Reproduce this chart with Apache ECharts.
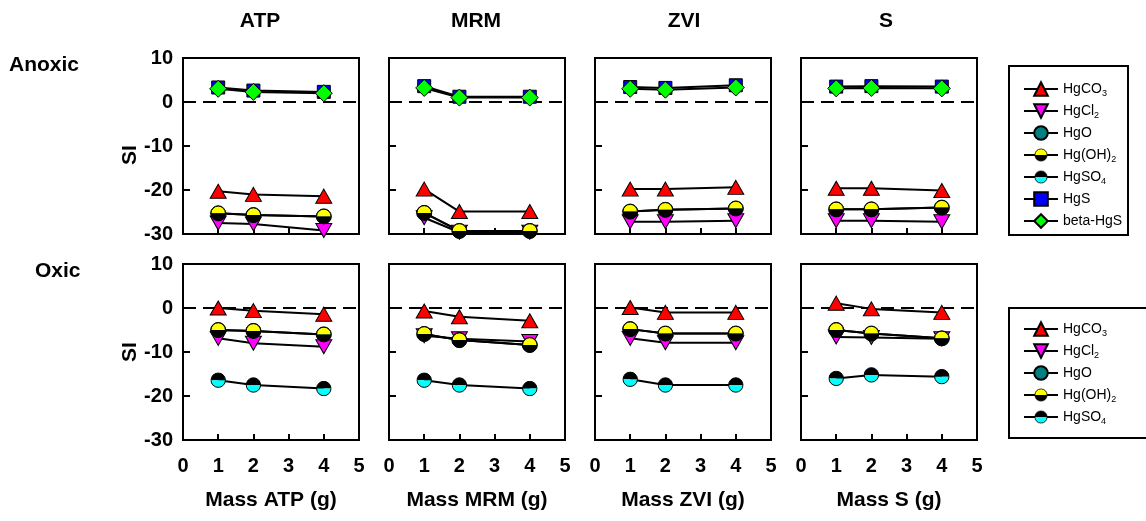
<!DOCTYPE html>
<html>
<head>
<meta charset="utf-8">
<title>SI vs mass</title>
<script src="https://cdn.jsdelivr.net/npm/echarts@6/dist/echarts.min.js"></script>
<style>
  html, body { margin: 0; background: #fff; }
  #main { width: 1146px; height: 521px; }
</style>
</head>
<body>
<div id="main"></div>
<script>
// amendments / x positions
var columns = ['ATP', 'MRM', 'ZVI', 'S'];
var mass = [1, 2, 4];
var zeroLine = [[0, 0], [5, 0]];

// anoxic, one row per amendment (ATP, MRM, ZVI, S)
var anoxicHgCO3 = [[-20.3, -21.0, -21.4], [-19.8, -24.9, -24.9], [-19.8, -19.8, -19.4], [-19.6, -19.6, -20.1]];
var anoxicHgCl2 = [[-27.5, -27.7, -29.2], [-26.3, -29.6, -29.6], [-27.2, -27.2, -27.0], [-27.0, -27.0, -27.2]];
var anoxicHgO = [[-25.3, -25.7, -26.0], [-25.2, -29.3, -29.3], [-24.9, -24.5, -24.2], [-24.4, -24.4, -24.0]];
var anoxicHgOH2 = [[-25.3, -25.7, -26.0], [-25.2, -29.3, -29.3], [-24.9, -24.5, -24.2], [-24.4, -24.4, -24.0]];
var anoxicHgS = [[3.3, 2.6, 2.3], [3.6, 1.2, 1.2], [3.4, 3.2, 3.8], [3.5, 3.6, 3.5]];
var anoxicBetaHgS = [[3.0, 2.3, 2.0], [3.2, 1.0, 1.0], [3.0, 2.8, 3.3], [3.1, 3.2, 3.1]];

// oxic
var oxicHgCO3 = [[0.0, -0.6, -1.4], [-0.7, -2.0, -2.9], [0.1, -1.0, -1.0], [1.1, -0.2, -1.0]];
var oxicHgCl2 = [[-6.9, -8.0, -8.8], [-6.3, -7.0, -7.6], [-6.9, -7.9, -7.9], [-6.6, -6.7, -7.0]];
var oxicHgO = [[-5.0, -5.2, -6.0], [-5.9, -7.3, -8.4], [-4.8, -5.8, -5.8], [-5.0, -5.8, -6.9]];
var oxicHgOH2 = [[-5.0, -5.2, -6.0], [-5.9, -7.3, -8.4], [-4.8, -5.8, -5.8], [-5.0, -5.8, -6.9]];
var oxicHgSO4 = [[-16.4, -17.5, -18.3], [-16.4, -17.5, -18.3], [-16.2, -17.5, -17.5], [-16.0, -15.2, -15.6]];

var anoxicNames = ['HgCO3', 'HgCl2', 'HgO', 'Hg(OH)2', 'HgSO4', 'HgS', 'beta-HgS'];
var oxicNames = ['HgCO3', 'HgCl2', 'HgO', 'Hg(OH)2', 'HgSO4'];

var FONT = '"Liberation Sans", Arial, Helvetica, sans-serif';

function halfCircle(top, bottom) {
  var svg = "<svg xmlns='http://www.w3.org/2000/svg' width='40' height='40' viewBox='0 0 40 40'>" +
    "<path d='M2,20 A18,18 0 0 1 38,20 Z' fill='" + top + "'/>" +
    "<path d='M2,20 A18,18 0 0 0 38,20 Z' fill='" + bottom + "'/>" +
    "<circle cx='20' cy='20' r='18' fill='none' stroke='#000' stroke-width='2.5'/></svg>";
  return 'image://data:image/svg+xml;charset=utf-8,' + encodeURIComponent(svg);
}

var looks = {
  'HgCO3': { symbol: 'triangle', size: [16, 14], color: '#ff0000' },
  'HgCl2': { symbol: 'triangle', rotate: 180, size: [16, 14], color: '#ff00ff' },
  'HgO': { symbol: 'circle', size: 15, color: '#008080' },
  'Hg(OH)2': { symbol: halfCircle('#ffff00', '#000000'), size: 16, color: '#000' },
  'HgSO4': { symbol: halfCircle('#000000', '#00ffff'), size: 16, color: '#000' },
  'HgS': { symbol: 'rect', size: 13, color: '#0000ff' },
  'beta-HgS': { symbol: 'diamond', size: 17, color: '#00ff00' }
};

var legendText = {
  'HgCO3': 'HgCO{s|3}', 'HgCl2': 'HgCl{s|2}', 'HgO': 'HgO',
  'Hg(OH)2': 'Hg(OH){s|2}', 'HgSO4': 'HgSO{s|4}', 'HgS': 'HgS', 'beta-HgS': 'beta-HgS'
};

var rows = [
  { HgCO3: anoxicHgCO3, HgCl2: anoxicHgCl2, HgO: anoxicHgO, 'Hg(OH)2': anoxicHgOH2, HgS: anoxicHgS, 'beta-HgS': anoxicBetaHgS },
  { HgCO3: oxicHgCO3, HgCl2: oxicHgCl2, HgO: oxicHgO, 'Hg(OH)2': oxicHgOH2, HgSO4: oxicHgSO4 }
];

var lefts = [183, 389, 595, 801];
var tops = [58, 264];

var grids = [], xAxes = [], yAxes = [], series = [];

rows.forEach(function (row, r) {
  columns.forEach(function (col, c) {
    var g = r * 4 + c;
    grids.push({
      left: lefts[c], top: tops[r], width: 176, height: 176,
      show: true, borderColor: '#000', borderWidth: 2, backgroundColor: 'transparent'
    });
    xAxes.push({
      type: 'value', gridIndex: g, min: 0, max: 5, interval: 1,
      axisLine: { onZero: false, lineStyle: { color: '#000', width: 2 } },
      axisTick: { inside: true, length: 6, lineStyle: { color: '#000', width: 2 } },
      axisLabel: { show: r === 1, margin: 16, color: '#000', fontSize: 20, fontWeight: 'bold', fontFamily: FONT },
      splitLine: { show: false },
      name: r === 1 ? 'Mass ' + col + ' (g)' : '',
      nameLocation: 'middle', nameGap: 50,
      nameTextStyle: { color: '#000', fontSize: 21, fontWeight: 'bold', fontFamily: FONT }
    });
    yAxes.push({
      type: 'value', gridIndex: g, min: -30, max: 10, interval: 10,
      axisLine: { lineStyle: { color: '#000', width: 2 } },
      axisTick: { inside: true, length: 7, lineStyle: { color: '#000', width: 2 } },
      axisLabel: { show: c === 0, margin: 10, color: '#000', fontSize: 20, fontWeight: 'bold', fontFamily: FONT },
      splitLine: { show: false }
    });
    // dashed SI = 0 line
    series.push({
      type: 'line', name: 'zero', xAxisIndex: g, yAxisIndex: g, data: zeroLine,
      symbol: 'none', silent: true,
      lineStyle: { color: '#000', width: 2, type: [13, 7] }
    });
    Object.keys(row).forEach(function (name) {
      var lk = looks[name];
      series.push({
        type: 'line', name: name, xAxisIndex: g, yAxisIndex: g,
        data: mass.map(function (m, i) { return [m, row[name][c][i]]; }),
        symbol: lk.symbol, symbolSize: lk.size, symbolRotate: lk.rotate || 0,
        showAllSymbol: true,
        itemStyle: { color: lk.color, borderColor: '#000', borderWidth: 1 },
        lineStyle: { color: '#000', width: 2 },
        emphasis: { disabled: true }
      });
    });
  });
});

function legendFor(names, top) {
  return {
    data: names, orient: 'vertical', left: 1018, top: top,
    itemWidth: 34, itemHeight: 17, itemGap: 4, selectedMode: false,
    formatter: function (n) { return legendText[n]; },
    textStyle: {
      color: '#000', fontSize: 14, fontFamily: FONT, lineHeight: 18,
      rich: { s: { fontSize: 9, fontFamily: FONT, color: '#000', verticalAlign: 'bottom', lineHeight: 9 } }
    }
  };
}

function label(text, x, y, size, align, rot) {
  return {
    type: 'text', x: x, y: y, rotation: rot || 0,
    style: {
      text: text, fill: '#000', font: 'bold ' + size + 'px ' + FONT,
      textAlign: align, textVerticalAlign: 'middle'
    }
  };
}

var graphics = [
  label('ATP', 260, 21, 21, 'center'),
  label('MRM', 476, 21, 21, 'center'),
  label('ZVI', 684, 21, 21, 'center'),
  label('S', 886, 21, 21, 'center'),
  label('Anoxic', 9, 65, 21, 'left'),
  label('Oxic', 35, 271, 21, 'left'),
  label('SI', 130, 155, 21, 'center', Math.PI / 2),
  label('SI', 130, 352, 21, 'center', Math.PI / 2),
  { type: 'rect', shape: { x: 1009, y: 66, width: 119, height: 169 }, style: { fill: 'none', stroke: '#000', lineWidth: 2 } },
  { type: 'rect', shape: { x: 1009, y: 308, width: 160, height: 130 }, style: { fill: 'none', stroke: '#000', lineWidth: 2 } }
];

var chart = echarts.init(document.getElementById('main'));
chart.setOption({
  animation: false,
  backgroundColor: '#fff',
  grid: grids,
  xAxis: xAxes,
  yAxis: yAxes,
  legend: [legendFor(anoxicNames, 75), legendFor(oxicNames, 315)],
  graphic: graphics,
  series: series
});
</script>
</body>
</html>
